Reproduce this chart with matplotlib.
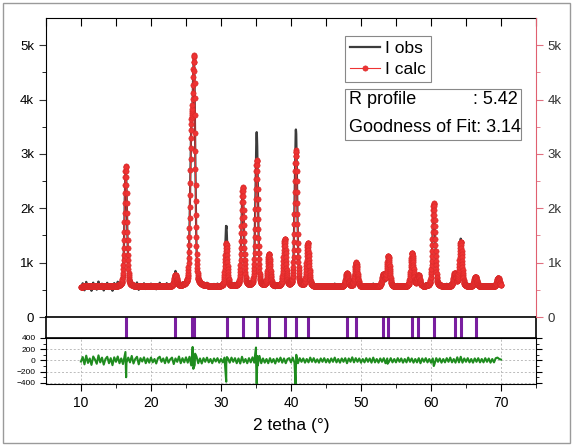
import numpy as np
import matplotlib.pyplot as plt
from matplotlib.patches import Rectangle

plt.rcParams['font.family'] = ['Liberation Sans', 'DejaVu Sans']

# peak table (2theta, calc top, obs top, fwhm)
peak_pos = [16.4, 23.5, 25.75, 26.15, 30.75, 33.1, 35.1, 36.85, 39.1, 40.7, 42.4,
            48.0, 49.3, 53.2, 53.9, 57.3, 58.2, 60.4, 63.4, 64.25, 66.35, 69.6]
calc_top = [2780, 760, 3100, 4500, 1350, 2380, 2880, 1150, 1420, 3060, 1350,
            800, 1000, 780, 1120, 1170, 760, 2090, 800, 1380, 740, 720]
obs_top = [2760, 800, 3050, 4480, 1680, 2350, 3390, 1150, 1400, 3440, 1330,
           790, 980, 770, 1100, 1160, 750, 2060, 790, 1370, 730, 710]
peak_fwhm = [0.42, 0.45, 0.42, 0.42, 0.38, 0.42, 0.42, 0.42, 0.42, 0.42, 0.42,
             0.45, 0.45, 0.45, 0.45, 0.45, 0.45, 0.45, 0.45, 0.45, 0.45, 0.45]
background = 560

# residual (difference curve) every 0.25 deg from 10 to 70
residual = [
    -20, 60, -70, 85, -45, 35, -80, 70, 15, -60, 90, -35, 50, -75, 25, 65, -50, 40, -85, 55,
    -25, 70, -50, 35, -65, 90, -40, 50, -35, 80, -55, 25, 65, -70, 40, -20, 55, -50, 35, -40,
    50, -35, 25, -55, 40, 65, -25, 35, -50, 55, -40, 20, 50, -65, 35, -25, 70, -50, 40, -35,
    55, -40, 65, -90, 100, -80, 70, -50, 35, -55, 40, -25, 50, -35, 25, -50, 35, -20, 40, -40,
    25, -35, 50, -65, 35, -40, 50, -25, 40, -50, 35, -55, 65, -35, 25, -50, 40, -35, 55, -40,
    50, -90, 80, -50, 35, -40, 25, -50, 40, -35, 25, -55, 35, -25, 50, -40, 35, -50, 25, 40,
    -35, 50, -40, 35, -50, 40, -25, 35, -40, 25, -35, 50, -25, 40, -35, 20, -40, 35, -25, 40,
    -35, 25, -40, 35, -25, 50, -35, 25, -40, 35, -25, 40, -50, 35, -25, 55, -35, 40, -25, 35,
    -40, 25, -35, 40, -25, 35, -40, 50, -35, 25, -40, 35, -25, 40, -50, 35, -25, 40, -35, 25,
    -35, 40, -25, 35, -40, 25, -35, 50, -25, 35, -40, 25, -35, 40, -50, 35, -25, 40, -35, 25,
    -40, 35, -65, 40, -25, 35, -40, 25, -35, 40, -25, 50, -35, 25, -40, 55, -35, 65, -40, 35,
    -25, 40, -35, 25, -40, 35, -25, 40, -35, 25, -35, 40, -25, 35, -40, 25, -35, 40, 50, 25,
    15]
# spikes of the difference curve at the strong reflections
spike_x = [16.35, 16.45, 25.95, 26.05, 26.3, 30.75, 30.85, 35.0, 35.1, 35.2,
           40.65, 40.75, 53.8, 60.4]
spike_y = [150, -300, 240, -150, 120, -380, 60, 230, -420, 80,
           -420, 100, -60, -100]

# Bragg reflection positions
bragg = [16.4, 23.5, 25.8, 26.2, 30.8, 33.2, 35.1, 36.9, 39.1, 40.7, 42.4,
         48.0, 49.3, 53.2, 53.9, 57.3, 58.2, 60.4, 63.5, 64.3, 66.4]

r_profile = 5.42
gof = 3.14

red = '#EE3333'
gray = '#3c3c3c'


def profile(x, tops):
    y = np.full_like(x, background, dtype=float)
    for p, h, w in zip(peak_pos, tops, peak_fwhm):
        d = x - p
        g = np.exp(-4 * np.log(2) * (d / w) ** 2)
        lor = 1 / (1 + 4 * (d / w) ** 2)
        y += (h - background) * (0.75 * g + 0.25 * lor)
    return y


tt = np.linspace(10, 70, 2401)
calc = profile(tt, calc_top)
obs = profile(tt, obs_top)
obs[::10] += np.array(residual)

res_x = np.concatenate([np.linspace(10, 70, 241), spike_x])
res_y = np.concatenate([residual, spike_y])
order = np.argsort(res_x)
res_x, res_y = res_x[order], res_y[order]

fig = plt.figure(figsize=(5.74, 4.48), dpi=100)
fig.patches.append(Rectangle((0.005, 0.011), 0.988, 0.982, transform=fig.transFigure,
                             fill=False, edgecolor='#9a9a9a', lw=1))

L, W = 0.0801, 0.8537
ax = fig.add_axes([L, 0.2924, W, 0.6674])
axm = fig.add_axes([L, 0.2455, W, 0.0469])
axd = fig.add_axes([L, 0.1429, W, 0.1027])

# main panel
ax.plot(tt, obs, color=gray, lw=1.6, label='I obs', zorder=2)
ax.plot(tt, calc, color=red, lw=0.8, marker='o', ms=3.8, mec='#d82828', mew=0.4,
        label='I calc', zorder=3)
ax.set_xlim(5, 75)
ax.set_ylim(0, 5500)
ax.set_yticks([0, 1000, 2000, 3000, 4000, 5000])
ax.set_yticklabels(['0', '1k', '2k', '3k', '4k', '5k'])
ax.set_yticks(np.arange(500, 5500, 1000), minor=True)
ax.set_xticks(np.arange(5, 76, 5))
ax.tick_params(axis='x', bottom=False, labelbottom=False, top=True, direction='in', length=6)
ax.tick_params(axis='y', labelsize=9.5, length=5, color='#333333')
ax.tick_params(axis='y', which='minor', length=3)
ax.spines['right'].set_visible(False)

axr = ax.twinx()
axr.set_ylim(0, 5500)
axr.set_yticks([0, 1000, 2000, 3000, 4000, 5000])
axr.set_yticklabels(['0', '1k', '2k', '3k', '4k', '5k'])
axr.set_yticks(np.arange(500, 5500, 1000), minor=True)
axr.tick_params(axis='y', labelsize=9.5, length=5, color='#e07080', labelcolor='#333333')
axr.tick_params(axis='y', which='minor', length=3, color='#e07080')
for s in ['left', 'top', 'bottom']:
    axr.spines[s].set_visible(False)
axr.spines['right'].set_color('#e06070')

leg = ax.legend(loc='upper left', bbox_to_anchor=(0.610, 0.94), fontsize=12.5,
                frameon=True, fancybox=False, edgecolor='#888888', framealpha=1,
                handlelength=1.7, handletextpad=0.3, borderpad=0.3, labelspacing=0.3,
                borderaxespad=0)
leg.get_frame().set_linewidth(0.8)

ax.add_patch(Rectangle((0.610, 0.592), 0.359, 0.171, transform=ax.transAxes,
                       fill=False, edgecolor='#888888', lw=0.8, zorder=5))
ax.text(0.618, 0.728, 'R profile', transform=ax.transAxes, fontsize=13, va='center')
ax.text(0.962, 0.728, f': {r_profile:.2f}', transform=ax.transAxes, fontsize=13,
        va='center', ha='right')
ax.text(0.618, 0.635, f'Goodness of Fit: {gof:.2f}', transform=ax.transAxes,
        fontsize=13, va='center')

# Bragg positions
axm.vlines(bragg, 0, 1, color='#7a1fa0', lw=2.2)
axm.set_xlim(5, 75)
axm.set_ylim(0, 1)
axm.set_xticks([])
axm.set_yticks([])
for s in axm.spines.values():
    s.set_linewidth(1.2)

# difference panel
axd.plot(res_x, res_y, color='#1f8c1f', lw=1.5)
axd.set_xlim(5, 75)
axd.set_ylim(-420, 400)
axd.set_xticks(np.arange(10, 71, 10))
axd.set_xticks(np.arange(15, 76, 10), minor=True)
axd.set_yticks([-400, -200, 0, 200, 400])
axd.set_yticks(np.arange(-300, 400, 200), minor=True)
axd.tick_params(axis='y', labelsize=6, length=4, right=True)
axd.tick_params(axis='y', which='minor', length=2.5, right=True)
axd.tick_params(axis='x', labelsize=10, length=5)
axd.tick_params(axis='x', which='minor', length=3)
axd.grid(True, which='major', color='#bbbbbb', ls=(0, (2, 2)), lw=0.7)
axd.set_xlabel('2 tetha (°)', fontsize=12.5, labelpad=6)

plt.savefig('out.png', dpi=100)
